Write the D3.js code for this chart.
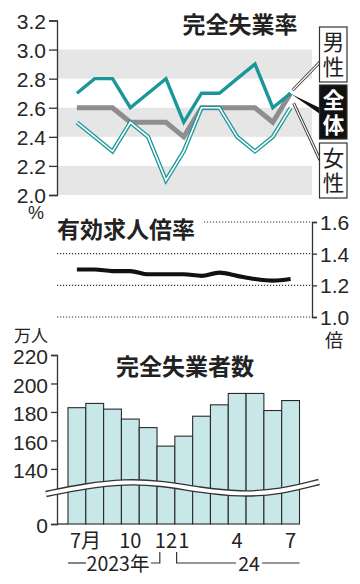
<!DOCTYPE html>
<html>
<head>
<meta charset="utf-8">
<script src="https://cdn.jsdelivr.net/npm/d3@7"></script>
<style>
  body { margin: 0; background: #fff; }
  svg { display: block; }
  .num { font-family: "Liberation Sans", Arial, sans-serif; font-size: 21px; fill: #262626; }
  .jp { font-family: "Noto Sans CJK JP", sans-serif; fill: #222; }
</style>
</head>
<body>
<svg id="chart" width="360" height="584"></svg>
<script>
// months Jul 2023 .. Jul 2024
const months = ['2023-07','2023-08','2023-09','2023-10','2023-11','2023-12',
  '2024-01','2024-02','2024-03','2024-04','2024-05','2024-06','2024-07'];
const monthLabels = ['7月','','','10','','12','1','','','4','','','7'];

// unemployment rate (%)
const rateMale   = [2.7, 2.8, 2.8, 2.6, 2.7, 2.8, 2.5, 2.7, 2.7, 2.8, 2.9, 2.6, 2.7];
const rateTotal  = [2.6, 2.6, 2.6, 2.5, 2.5, 2.5, 2.4, 2.6, 2.6, 2.6, 2.6, 2.5, 2.7];
const rateFemale = [2.5, 2.4, 2.3, 2.5, 2.4, 2.1, 2.3, 2.6, 2.6, 2.4, 2.3, 2.4, 2.6];
const rateTicks  = [2.0, 2.2, 2.4, 2.6, 2.8, 3.0, 3.2];

// jobs-to-applicants ratio
const jobRatio = [1.30, 1.30, 1.29, 1.29, 1.27, 1.27, 1.27, 1.26, 1.28, 1.26, 1.24, 1.23, 1.24];
const jobTicks = [1.0, 1.2, 1.4, 1.6];

// unemployed persons (10k)
const unemployed = [183, 186, 182, 175, 169, 156, 163, 177, 185, 193, 193, 181, 188];
const unemployedTicks = [140, 160, 180, 200, 220];

const svg = d3.select('#chart');
const teal = '#1a9799';

// shared x scale (band centres used for lines too)
const x = d3.scaleBand().domain(months).range([68, 299.5]).padding(0);
const cx = m => x(m) + x.bandwidth() / 2;

// ---------- top: unemployment rate ----------
const y1 = d3.scaleLinear().domain([2.0, 3.2]).range([195, 20.5]);

// grey bands
const bands = [[2.0, 2.2], [2.4, 2.6], [2.8, 3.0]];
svg.append('g').selectAll('rect').data(bands).enter().append('rect')
  .attr('x', 58).attr('width', 254)
  .attr('y', d => y1(d[1])).attr('height', d => y1(d[0]) - y1(d[1]))
  .attr('fill', '#e6e6e6');

const axis1 = svg.append('g').attr('transform', 'translate(57,0)')
  .call(d3.axisLeft(y1).tickValues(rateTicks).tickFormat(d3.format('.1f')).tickSize(8).tickPadding(3));
axis1.selectAll('path, line').attr('stroke', '#333').attr('stroke-width', 1.3);
axis1.selectAll('text').attr('class', 'num').attr('dy', '0.36em');

svg.append('text').attr('class', 'jp').attr('x', 240).attr('y', 33)
  .attr('text-anchor', 'middle').style('font-size', '23px').style('font-weight', 'bold')
  .text('完全失業率');
svg.append('text').attr('class', 'num').attr('x', 36).attr('y', 219)
  .attr('text-anchor', 'middle').style('font-size', '18px').text('%');

const line1 = d3.line().x((d, i) => cx(months[i])).y(d => y1(d));

svg.append('path').datum(rateTotal).attr('d', line1)
  .attr('fill', 'none').attr('stroke', '#8e8e8e').attr('stroke-width', 5);
svg.append('path').datum(rateFemale).attr('d', line1)
  .attr('fill', 'none').attr('stroke', teal).attr('stroke-width', 4.2);
svg.append('path').datum(rateFemale).attr('d', line1)
  .attr('fill', 'none').attr('stroke', '#fff').attr('stroke-width', 1.6);
svg.append('path').datum(rateMale).attr('d', line1)
  .attr('fill', 'none').attr('stroke', teal).attr('stroke-width', 3.4);

// legend connectors
const ex = cx(months[months.length - 1]);
const eyM = y1(rateMale[rateMale.length - 1]);
function doubleLine(x0, y0, x1, yb) {
  const p = `M${x0},${y0}L${x1},${yb}`;
  svg.append('path').attr('d', p).attr('stroke', '#333').attr('stroke-width', 3).attr('fill', 'none');
  svg.append('path').attr('d', p).attr('stroke', '#fff').attr('stroke-width', 1.2).attr('fill', 'none');
}
doubleLine(ex + 2, eyM - 3, 320, 62);
doubleLine(ex + 3, eyM + 10, 320, 160);
svg.append('path').attr('d', `M${ex + 1},${eyM + 1}L320,108L320,114Z`).attr('fill', '#111');

const legend = [
  { t: ['男', '性'], y0: 27, y1: 82, dark: false },
  { t: ['全', '体'], y0: 85, y1: 139, dark: true },
  { t: ['女', '性'], y0: 143, y1: 198, dark: false }
];
legend.forEach(l => {
  svg.append('rect').attr('x', 319.5).attr('y', l.y0).attr('width', 27.5).attr('height', l.y1 - l.y0)
    .attr('fill', l.dark ? '#111' : '#fff').attr('stroke', '#333').attr('stroke-width', 1.2);
  l.t.forEach((c, i) => {
    svg.append('text').attr('class', 'jp').attr('x', 333.5).attr('y', l.y0 + 23 + i * 25)
      .attr('text-anchor', 'middle').style('font-size', '21.5px')
      .style('font-weight', l.dark ? 'bold' : 'normal')
      .style('fill', l.dark ? '#fff' : '#222').text(c);
  });
});

// ---------- middle: jobs-to-applicants ratio ----------
const y2 = d3.scaleLinear().domain([1.0, 1.6]).range([317, 222]);

svg.append('g').selectAll('line').data(jobTicks).enter().append('line')
  .attr('x1', 57).attr('x2', 312).attr('y1', d => y2(d)).attr('y2', d => y2(d))
  .attr('stroke', '#333').attr('stroke-width', 1.2).attr('stroke-dasharray', '1.2,1.8');

const axis2 = svg.append('g').attr('transform', 'translate(312,0)')
  .call(d3.axisRight(y2).tickValues(jobTicks).tickFormat(d3.format('.1f')).tickSize(5).tickPadding(3));
axis2.selectAll('path, line').attr('stroke', '#333').attr('stroke-width', 1.3);
axis2.selectAll('text').attr('class', 'num').attr('dy', '0.36em');

svg.append('rect').attr('x', 56).attr('y', 212).attr('width', 146).attr('height', 28).attr('fill', '#fff');
svg.append('text').attr('class', 'jp').attr('x', 57).attr('y', 238)
  .style('font-size', '23px').style('font-weight', 'bold').text('有効求人倍率');
svg.append('text').attr('class', 'jp').attr('x', 334).attr('y', 347)
  .attr('text-anchor', 'middle').style('font-size', '18px').text('倍');

const line2 = d3.line().x((d, i) => cx(months[i])).y(d => y2(d)).curve(d3.curveMonotoneX);
svg.append('path').datum(jobRatio).attr('d', line2)
  .attr('fill', 'none').attr('stroke', '#111').attr('stroke-width', 4.2).attr('stroke-linecap', 'butt');

// ---------- bottom: unemployed persons ----------
const y3 = d3.scaleLinear().domain([101.3, 220]).range([524, 355]);

svg.append('g').selectAll('rect').data(unemployed).enter().append('rect')
  .attr('x', (d, i) => x(months[i])).attr('width', x.bandwidth())
  .attr('y', d => y3(d)).attr('height', d => y3(101.3) - y3(d))
  .attr('fill', '#c8e7e9').attr('stroke', '#2a2a2a').attr('stroke-width', 1.1);

const axis3 = svg.append('g').attr('transform', 'translate(57,0)')
  .call(d3.axisLeft(y3).tickValues([101.3, ...unemployedTicks])
    .tickFormat(d => d < 120 ? '0' : d).tickSize(6).tickPadding(3));
axis3.selectAll('path, line').attr('stroke', '#333').attr('stroke-width', 1.3);
axis3.selectAll('text').attr('class', 'num').attr('dy', '0.42em');
svg.append('line').attr('x1', 57).attr('x2', 68).attr('y1', 524).attr('y2', 524)
  .attr('stroke', '#333').attr('stroke-width', 1.3);

svg.append('text').attr('class', 'jp').attr('x', 31).attr('y', 342)
  .attr('text-anchor', 'middle').style('font-size', '17px').text('万人');
svg.append('text').attr('class', 'jp').attr('x', 185).attr('y', 375)
  .attr('text-anchor', 'middle').style('font-size', '23px').style('font-weight', 'bold')
  .text('完全失業者数');

// axis break wave
const wave = [[46, 494], [85, 486], [125, 481.5], [160, 483], [200, 490], [240, 494.5], [280, 492], [319, 482]];
const wavePath = d3.line().curve(d3.curveBasis)(wave);
svg.append('path').attr('d', wavePath).attr('fill', 'none').attr('stroke', '#333').attr('stroke-width', 6.5);
svg.append('path').attr('d', wavePath).attr('fill', 'none').attr('stroke', '#fff').attr('stroke-width', 3.8);

// month labels
svg.append('g').selectAll('text').data(months.filter((m, i) => monthLabels[i])).enter().append('text')
  .attr('class', 'jp')
  .attr('x', m => monthLabels[months.indexOf(m)] === '7月' ? cx(m) - 7 : cx(m))
  .attr('y', 548)
  .attr('text-anchor', m => monthLabels[months.indexOf(m)] === '7月' ? 'start' : 'middle')
  .style('font-size', '20px')
  .text(m => monthLabels[months.indexOf(m)]);

// year brackets
const yr = 563;
const decX = x(months[5]) + x.bandwidth() * 0.1;
const janX = x(months[6]) + x.bandwidth() * 0.1;
const endX = x(months[12]) + x.bandwidth();
const bracket = [
  `M${x(months[0])},${yr}H86`,
  `M151,${yr}H${decX + 1}V552`,
  `M${janX},552V${yr}H236`,
  `M262,${yr}H${endX}`
];
svg.append('g').selectAll('path').data(bracket).enter().append('path')
  .attr('d', d => d).attr('fill', 'none').attr('stroke', '#333').attr('stroke-width', 1.2);
svg.append('text').attr('class', 'jp').attr('x', 118).attr('y', 571)
  .attr('text-anchor', 'middle').style('font-size', '19.5px').text('2023年');
svg.append('text').attr('class', 'jp').attr('x', 249).attr('y', 571)
  .attr('text-anchor', 'middle').style('font-size', '19.5px').text('24');
</script>
</body>
</html>
